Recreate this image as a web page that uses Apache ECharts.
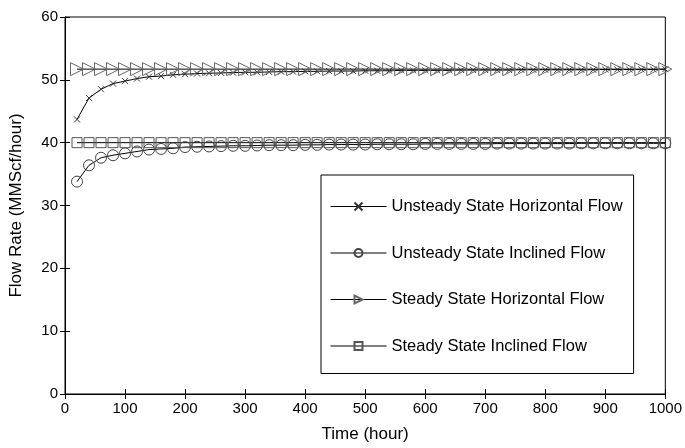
<!DOCTYPE html>
<html>
<head>
<meta charset="utf-8">
<script src="https://cdn.jsdelivr.net/npm/echarts@6/dist/echarts.min.js"></script>
<style>
  html, body { margin: 0; padding: 0; background: #fff; }
  #chart { width: 685px; height: 448px; }
</style>
</head>
<body>
<div id="chart"></div>
<script>
// time (hour)
var timeHours = [20, 40, 60, 80, 100, 120, 140, 160, 180, 200,
  220, 240, 260, 280, 300, 320, 340, 360, 380, 400,
  420, 440, 460, 480, 500, 520, 540, 560, 580, 600,
  620, 640, 660, 680, 700, 720, 740, 760, 780, 800,
  820, 840, 860, 880, 900, 920, 940, 960, 980, 1000];

// flow rate (MMScf/hour)
var unsteadyHorizontal = [43.7, 47.1, 48.5, 49.4, 49.8, 50.2, 50.5, 50.6, 50.8, 50.9,
  51.0, 51.05, 51.1, 51.15, 51.2, 51.2, 51.25, 51.3, 51.3, 51.35,
  51.35, 51.4, 51.4, 51.4, 51.45, 51.45, 51.45, 51.5, 51.5, 51.5,
  51.5, 51.5, 51.55, 51.55, 51.55, 51.55, 51.55, 51.6, 51.6, 51.6,
  51.6, 51.6, 51.6, 51.6, 51.65, 51.65, 51.65, 51.65, 51.65, 51.7];
var unsteadyInclined = [33.8, 36.4, 37.6, 38.0, 38.3, 38.6, 38.9, 39.0, 39.1, 39.3,
  39.35, 39.4, 39.45, 39.5, 39.5, 39.55, 39.6, 39.6, 39.6, 39.65,
  39.65, 39.7, 39.7, 39.7, 39.7, 39.75, 39.75, 39.75, 39.75, 39.8,
  39.8, 39.8, 39.8, 39.8, 39.8, 39.85, 39.85, 39.85, 39.85, 39.85,
  39.85, 39.85, 39.9, 39.9, 39.9, 39.9, 39.9, 39.9, 39.9, 39.9];
var steadyHorizontal = [51.7, 51.7, 51.7, 51.7, 51.7, 51.7, 51.7, 51.7, 51.7, 51.7,
  51.7, 51.7, 51.7, 51.7, 51.7, 51.7, 51.7, 51.7, 51.7, 51.7,
  51.7, 51.7, 51.7, 51.7, 51.7, 51.7, 51.7, 51.7, 51.7, 51.7,
  51.7, 51.7, 51.7, 51.7, 51.7, 51.7, 51.7, 51.7, 51.7, 51.7,
  51.7, 51.7, 51.7, 51.7, 51.7, 51.7, 51.7, 51.7, 51.7, 51.7];
var steadyInclined = [40, 40, 40, 40, 40, 40, 40, 40, 40, 40,
  40, 40, 40, 40, 40, 40, 40, 40, 40, 40,
  40, 40, 40, 40, 40, 40, 40, 40, 40, 40,
  40, 40, 40, 40, 40, 40, 40, 40, 40, 40,
  40, 40, 40, 40, 40, 40, 40, 40, 40, 40];

var seriesNames = ['Unsteady State Horizontal Flow', 'Unsteady State Inclined Flow',
  'Steady State Horizontal Flow', 'Steady State Inclined Flow'];

function pairs(ys) {
  return ys.map(function (y, i) { return [timeHours[i], y]; });
}

var font = 'Arial, "Liberation Sans", Helvetica, sans-serif';

function lineSeries(name, ys, symbol, size, rotate, markerColor) {
  return {
    name: name,
    type: 'line',
    data: pairs(ys),
    symbol: symbol,
    symbolSize: size,
    symbolRotate: rotate,
    showAllSymbol: true,
    animation: false,
    lineStyle: { color: '#000', width: 1 },
    itemStyle: { color: 'rgba(0,0,0,0)', borderColor: markerColor, borderWidth: 1 },
    emphasis: { disabled: true }
  };
}

var chart = echarts.init(document.getElementById('chart'));
chart.setOption({
  animation: false,
  textStyle: { fontFamily: font },
  grid: {
    left: 62, right: 18, top: 17, bottom: 47,
    show: true, borderColor: '#000', borderWidth: 1, backgroundColor: '#fff'
  },
  legend: {
    orient: 'vertical',
    left: 321, top: 175,
    padding: [23, 11, 19, 9],
    itemWidth: 56, itemHeight: 10, itemGap: 29.5,
    backgroundColor: '#fff',
    borderColor: '#000', borderWidth: 1,
    borderRadius: 0,
    lineStyle: { width: 1, color: '#000' },
    textStyle: { fontFamily: font, fontSize: 16.5, color: '#000' },
    data: seriesNames
  },
  xAxis: [{
    type: 'value', min: 0, max: 1000, interval: 100,
    name: 'Time (hour)', nameLocation: 'middle', nameGap: 32,
    nameTextStyle: { fontFamily: font, fontSize: 17, color: '#000' },
    axisLine: { lineStyle: { color: '#000' } },
    axisTick: { inside: true, length: 5, lineStyle: { color: '#000' } },
    axisLabel: { fontFamily: font, fontSize: 15, color: '#000', margin: 7,
      formatter: function (v) { return String(v); } },
    splitLine: { show: false }
  }, {
    type: 'value', min: 0, max: 1000, interval: 100, position: 'top',
    axisLine: { lineStyle: { color: '#000' } },
    axisTick: { inside: true, length: 5, lineStyle: { color: '#000' } },
    axisLabel: { show: false },
    splitLine: { show: false }
  }],
  yAxis: [{
    type: 'value', min: 0, max: 60, interval: 10,
    name: 'Flow Rate (MMScf/hour)', nameLocation: 'middle', nameGap: 40,
    nameTextStyle: { fontFamily: font, fontSize: 17, color: '#000' },
    axisLine: { show: true, lineStyle: { color: '#000' } },
    axisTick: { show: true, inside: true, length: 5, lineStyle: { color: '#000' } },
    axisLabel: { fontFamily: font, fontSize: 15, color: '#000', margin: 7 },
    splitLine: { show: false }
  }, {
    type: 'value', min: 0, max: 60, interval: 10, position: 'right',
    axisLine: { show: true, lineStyle: { color: '#000' } },
    axisTick: { show: true, inside: true, length: 5, lineStyle: { color: '#000' } },
    axisLabel: { show: false },
    splitLine: { show: false }
  }],
  series: [
    lineSeries(seriesNames[0], unsteadyHorizontal, 'path://M0,0L10,10M10,0L0,10', 6, 0, '#333'),
    lineSeries(seriesNames[1], unsteadyInclined, 'circle', 11, 0, '#444'),
    lineSeries(seriesNames[2], steadyHorizontal, 'triangle', 13, -90, '#666'),
    lineSeries(seriesNames[3], steadyInclined, 'rect', 10, 0, '#555')
  ]
});
</script>
</body>
</html>
